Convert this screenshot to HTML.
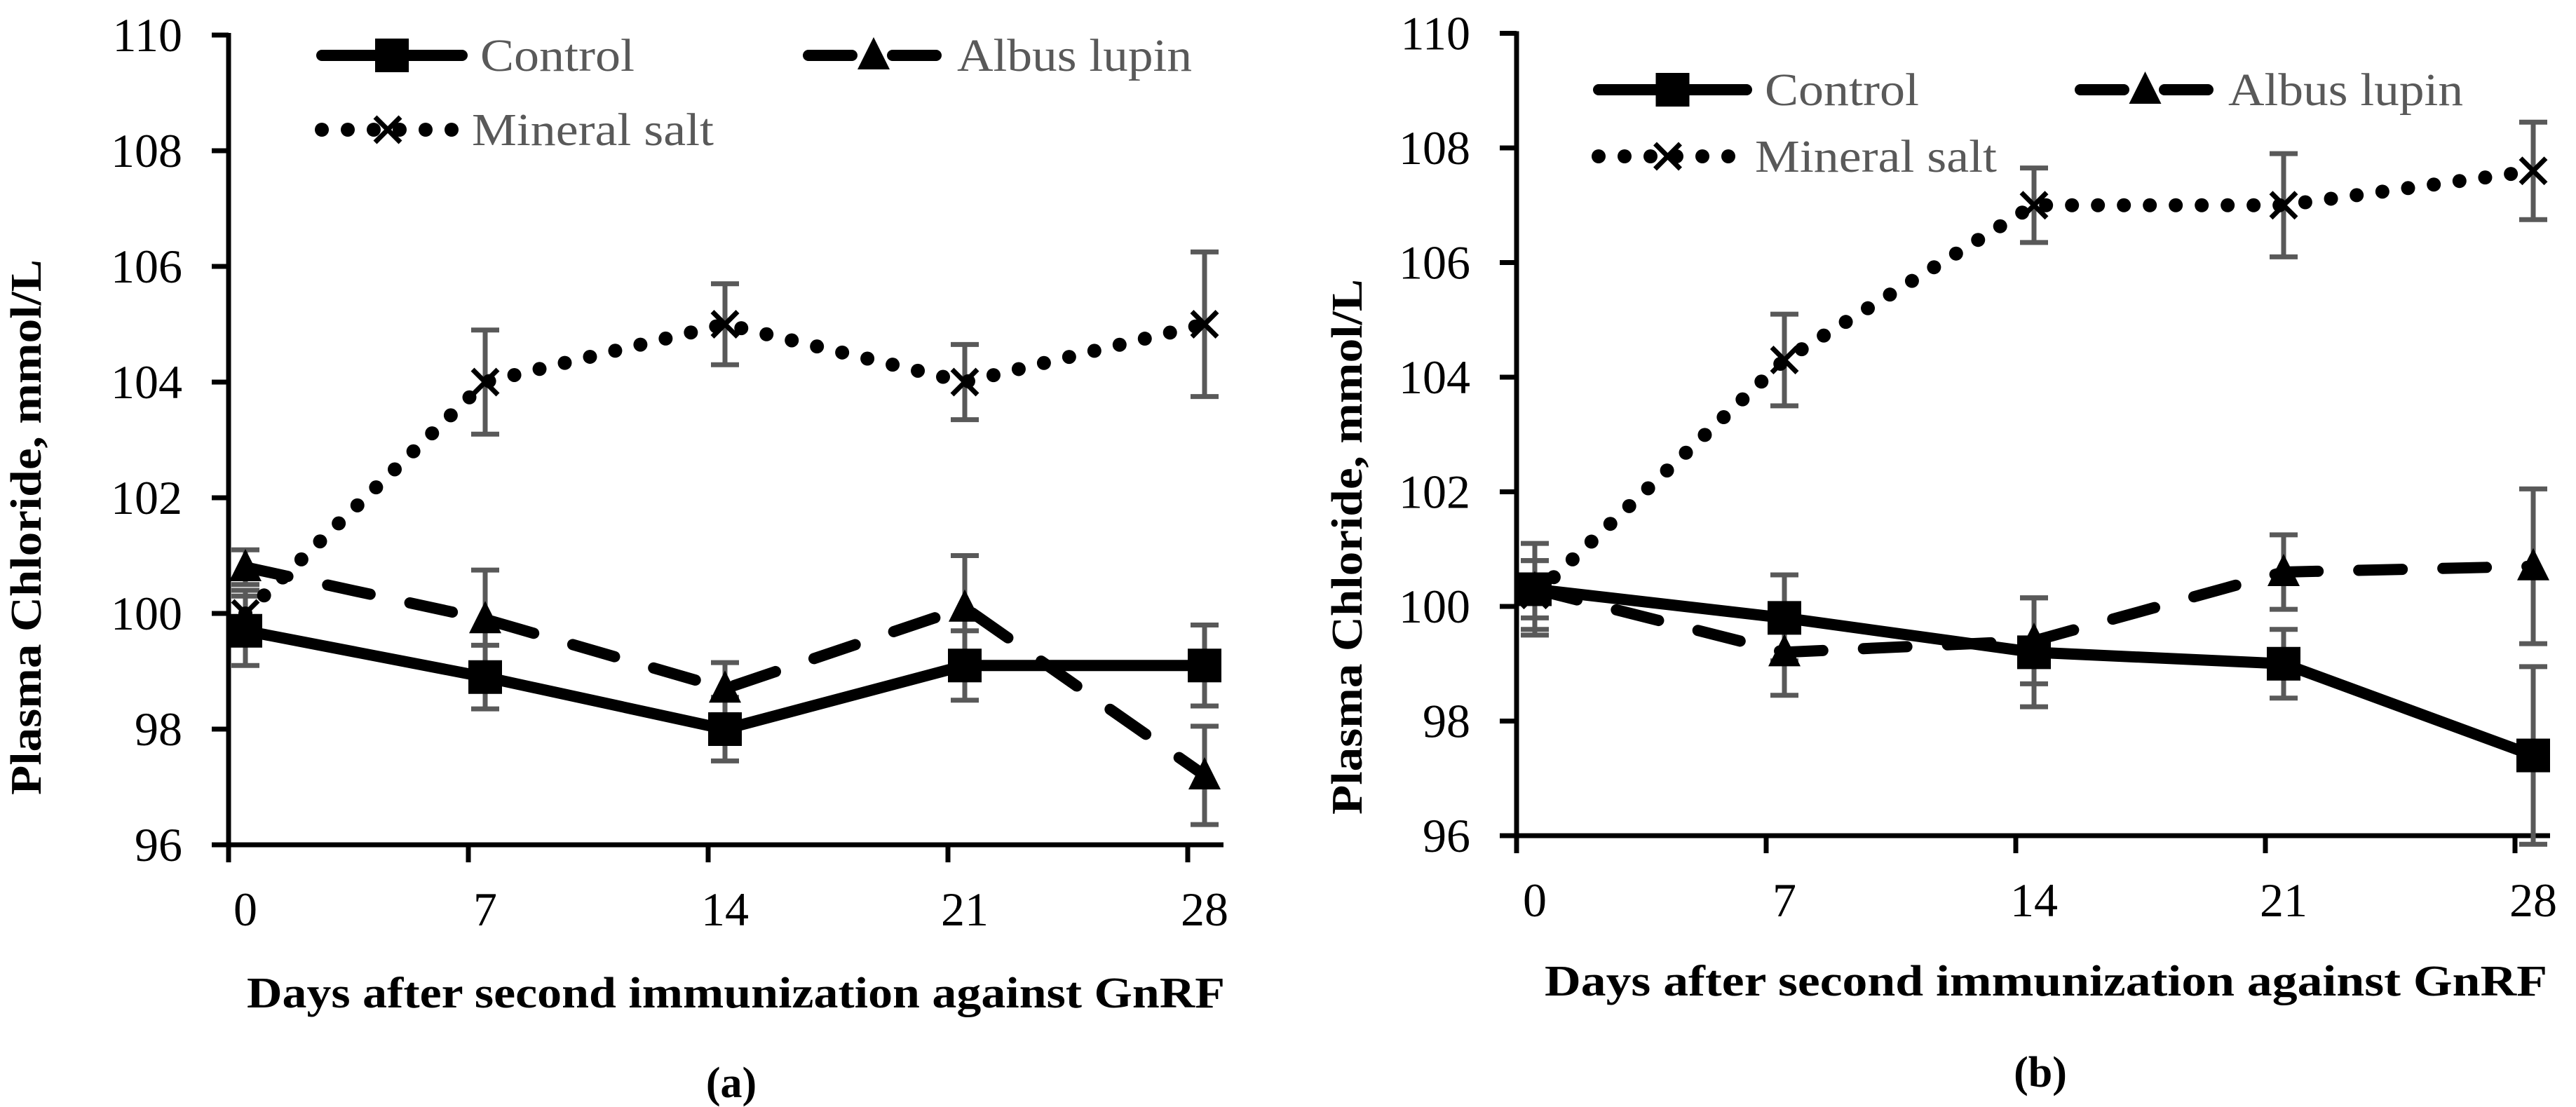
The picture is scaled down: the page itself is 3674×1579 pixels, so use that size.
<!DOCTYPE html>
<html><head><meta charset="utf-8"><style>
html,body{margin:0;padding:0;background:#fff;}
svg{display:block;font-family:"Liberation Serif",serif;}
</style></head><body>
<svg id="svg" width="3674" height="1579" viewBox="0 0 3674 1579" xmlns="http://www.w3.org/2000/svg">
<rect width="3674" height="1579" fill="#fff"/>
</svg>
<script>
const days = ["0","7","14","21","28"];
const yTicks = [96,98,100,102,104,106,108,110];
const aControl = [99.7,98.9,98.0,99.1,99.1];
const aControlErr = [0.6,0.55,0.55,0.6,0.7];
const aLupin = [100.8,99.9,98.7,100.1,97.2];
const aLupinErr = [0.3,0.85,0.45,0.9,0.85];
const aSalt = [100.0,104.0,105.0,104.0,105.0];
const aSaltErr = [0.4,0.9,0.7,0.65,1.25];
const bControl = [100.3,99.8,99.2,99.0,97.4];
const bControlErr = [0.5,0.75,0.95,0.6,1.55];
const bLupin = [100.3,99.2,99.4,100.6,100.7];
const bLupinErr = [0.8,0.75,0.75,0.65,1.35];
const bSalt = [100.2,104.3,107.0,107.0,107.6];
const bSaltErr = [0.6,0.8,0.65,0.9,0.85];

const NS="http://www.w3.org/2000/svg";
const svg=document.getElementById('svg');
function mk(tag,attrs,parent){const e=document.createElementNS(NS,tag);for(const k in attrs)e.setAttribute(k,attrs[k]);(parent||svg).appendChild(e);return e;}

function panel(cfg){
  const g=mk('g',{});
  
  
  const y=v=>cfg.y0-(v-96)*cfg.ppu;
  const xt=i=>cfg.x0+i*cfg.dx;
  const xp=i=>cfg.x0+cfg.off+i*cfg.dx;
  const ya=mk('line',{x1:cfg.x0,y1:y(110)-3,x2:cfg.x0,y2:cfg.y0+25,stroke:'#000','stroke-width':7},g);
  
  
  const xa=mk('line',{x1:cfg.x0-24,y1:cfg.y0,x2:cfg.xEnd,y2:cfg.y0,stroke:'#000','stroke-width':7},g);
  
  
  yTicks.forEach(v=>{
    mk('line',{x1:cfg.x0-24,y1:y(v),x2:cfg.x0,y2:y(v),stroke:'#000','stroke-width':7},g);
    const t=mk('text',{x:cfg.x0-66,y:y(v)+23,'text-anchor':'end','font-size':68,fill:'#000'},g);
    
    
    t.textContent=v;
  });
  days.forEach((d,i)=>{
    mk('line',{x1:xt(i),y1:cfg.y0,x2:xt(i),y2:cfg.y0+25,stroke:'#000','stroke-width':7},g);
    const t=mk('text',{x:xp(i),y:cfg.y0+115,'text-anchor':'middle','font-size':68,fill:'#000'},g);
    
    
    t.textContent=d;
  });
  const series=[
    {v:cfg.salt,e:cfg.saltErr,dash:'0 37',w:20,m:'x',name:'mineral-salt'},
    {v:cfg.lupin,e:cfg.lupinErr,dash:'62 58',w:16,m:'tri',name:'albus-lupin'},
    {v:cfg.control,e:cfg.controlErr,dash:'',w:16,m:'sq',name:'control'}
  ];
  series.forEach(s=>{
    s.v.forEach((v,i)=>{
      const x=xp(i),t=y(v+s.e[i]),b=y(v-s.e[i]);
      const eg=mk('g',{stroke:'#595959','stroke-width':7},g);
      
      
      mk('line',{x1:x,y1:t,x2:x,y2:b},eg);
      mk('line',{x1:x-20,y1:t,x2:x+20,y2:t},eg);
      mk('line',{x1:x-20,y1:b,x2:x+20,y2:b},eg);
    });
  });
  series.forEach(s=>{
    const pts=s.v.map((v,i)=>xp(i)+','+y(v)).join(' ');
    const pl=mk('polyline',{points:pts,fill:'none',stroke:'#000','stroke-width':s.w,'stroke-linecap':'round','stroke-linejoin':'round'},g);
    if(s.dash)pl.setAttribute('stroke-dasharray',s.dash);
    
    
    s.v.forEach((v,i)=>marker(g,s.m,xp(i),y(v),s.name));
  });
  const L=cfg.leg;
  legendEntry(g,L.c[0],L.c[1],L.c[2],'','sq','Control',220);
  legendEntry(g,L.a[0],L.a[1],L.a[2],'62 58','tri','Albus lupin',335);
  legendEntry(g,L.m[0],L.m[1],L.m[2],'0 37','x','Mineral salt',345);
  const yt=mk('text',{transform:`translate(${cfg.yt[0]},${cfg.yt[1]}) rotate(-90)`,'text-anchor':'middle','font-size':62,'font-weight':'bold',fill:'#000',textLength:cfg.yt[2],lengthAdjust:'spacingAndGlyphs'},g);
  
  
  yt.textContent='Plasma Chloride, mmol/L';
  const xtl=mk('text',{x:cfg.xt[0],y:cfg.xt[1],'font-size':62,'font-weight':'bold',fill:'#000',textLength:cfg.xt[2],lengthAdjust:'spacingAndGlyphs'},g);
  
  
  xtl.textContent='Days after second immunization against GnRF';
  const pl=mk('text',{x:cfg.lab[0],y:cfg.lab[1],'text-anchor':'middle','font-size':62,'font-weight':'bold',fill:'#000'},g);
  
  
  pl.textContent=cfg.label;
}
function marker(g,type,x,y,name){
  let m;
  if(type==='sq') m=mk('rect',{x:x-24,y:y-24,width:48,height:48,fill:'#000'},g);
  else if(type==='tri') m=mk('polygon',{points:`${x},${y-26} ${x+23},${y+20} ${x-23},${y+20}`,fill:'#000'},g);
  else { m=mk('path',{d:`M${x-18},${y-18}L${x+18},${y+18}M${x+18},${y-18}L${x-18},${y+18}`,stroke:'#000','stroke-width':7,fill:'none'},g); }
  
  
}
function legendEntry(g,x1,x2,yy,dash,type,label,tl){
  const lg=mk('g',{},g);
  
  
  const l=mk('line',{x1:x1+8,y1:yy,x2:x2-8,y2:yy,stroke:'#000','stroke-width':(type==='x'?20:16),'stroke-linecap':'round'},lg);
  if(dash)l.setAttribute('stroke-dasharray',dash);
  marker(lg,type,(x1+x2)/2,yy,'legend');
  const t=mk('text',{x:x2+18,y:yy+22,'font-size':66,fill:'#595959',textLength:tl,lengthAdjust:'spacingAndGlyphs'},lg);
  t.textContent=label;
}
panel({name:'panel-a',x0:326,y0:1205,ppu:82.5,dx:342,off:24,xEnd:1745,
  control:aControl,controlErr:aControlErr,lupin:aLupin,lupinErr:aLupinErr,salt:aSalt,saltErr:aSaltErr,
  leg:{c:[451,667,79],a:[1145,1347,79],m:[451,655,185]},
  yt:[58,752,764],xt:[352,1437,1395],lab:[1043,1565],label:'(a)'});
panel({name:'panel-b',x0:2163,y0:1192,ppu:81.75,dx:356,off:26,xEnd:3637,
  control:bControl,controlErr:bControlErr,lupin:bLupin,lupinErr:bLupinErr,salt:bSalt,saltErr:bSaltErr,
  leg:{c:[2272,2499,128],a:[2959,3160,128],m:[2272,2485,223]},
  yt:[1942,780,764],xt:[2203,1420,1430],lab:[2910,1550],label:'(b)'});
</script>
</body></html>
